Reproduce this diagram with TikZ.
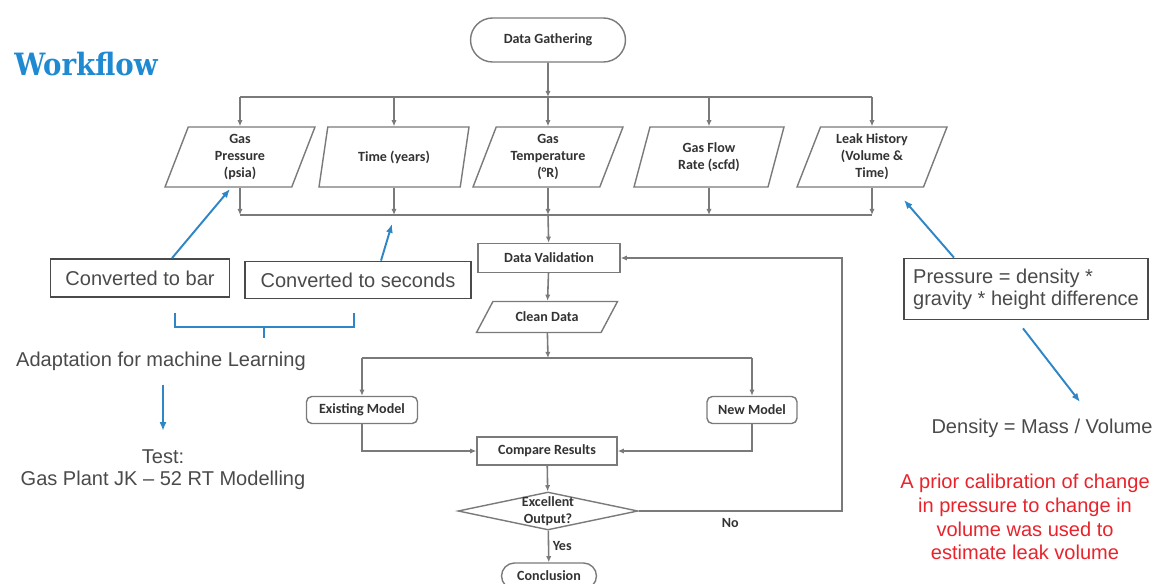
\documentclass[tikz,border=0pt]{standalone}
\usepackage{fontspec}
\setmainfont{Liberation Sans}
\newfontfamily\flowfont{Carlito}
\newfontfamily\titlefont{DejaVu Serif}
\usetikzlibrary{shapes.geometric,shapes.misc,arrows.meta,calc}

\definecolor{flowgray}{HTML}{7A7A7A}
\definecolor{notegray}{HTML}{4A4A4A}
\definecolor{noteblue}{HTML}{2F86C6}
\definecolor{titleblue}{HTML}{1F8AD2}
\definecolor{notered}{HTML}{E8232B}

\tikzset{
  flow/.style={draw=flowgray, line width=0.9pt, -{Latex[length=3.5pt,width=3pt]}},
  bus/.style={draw=flowgray, line width=0.9pt},
  box/.style={draw=flowgray, line width=0.8pt, fill=white, text=black!80, align=center, inner sep=2pt,
    font=\flowfont\bfseries\fontsize{8}{9.6}\selectfont},
  process/.style={box, rectangle, minimum height=0.58cm},
  model/.style={box, rounded corners=3pt, minimum height=0.54cm},
  io/.style={box, trapezium, trapezium left angle=66, trapezium right angle=114,
    trapezium stretches body, minimum width=3cm, minimum height=1.2cm},
  terminal/.style={box, rounded rectangle, minimum height=0.88cm},
  decision/.style={draw=flowgray, line width=0.8pt, diamond, minimum width=3.6cm,
    minimum height=0.76cm, inner sep=0pt},
  note/.style={text=notegray, font=\fontsize{11.4}{12.5}\selectfont},
  notebox/.style={note, draw=notegray, line width=1pt},
  pointer/.style={draw=noteblue, line width=1.1pt, -{Latex[length=5pt,width=4pt]}},
}

\begin{document}
\begin{tikzpicture}[x=0.02cm, y=-0.02cm]
\useasboundingbox (0,0) rectangle (1153,584);

\node[text=titleblue, xscale=0.9, font=\titlefont\bfseries\fontsize{17.5}{17.5}\selectfont] (title) at (86,64) {Workflow};

% gathering and inputs
\node[terminal, minimum width=3.24cm] (gather) at (548,40) {Data Gathering};
\node[io] (press) at (240,157) {Gas\\Pressure\\(psia)};
\node[io] (time) at (394,157) {Time (years)};
\node[io] (temp) at (548,157) {Gas\\Temperature\\(°R)};
\node[io] (rate) at (709,157) {Gas Flow\\Rate (scfd)};
\node[io] (leak) at (872,157) {Leak History\\(Volume \&\\Time)};

\coordinate (split1) at (548,97);
\coordinate (join1) at (548,215);
\coordinate (split2) at (548,358);

\draw[flow] (gather) -- (split1);
\draw[bus] (split1 -| press.north) -- (split1 -| leak.north);
\foreach \n in {press,time,temp,rate,leak}
  \draw[flow] (split1 -| \n.north) -- (\n.north);
\foreach \n in {press,time,temp,rate,leak}
  \draw[flow] (\n.south) -- (join1 -| \n.south);
\draw[bus] (join1 -| press.south) -- (join1 -| leak.south);

% main column
\node[process, minimum width=2.84cm] (valid) at (549,258) {Data Validation};
\node[io, minimum width=2.82cm, minimum height=0.62cm, trapezium left angle=46,
  trapezium right angle=134] (clean) at (547,317) {Clean Data};
\node[model, minimum width=2.22cm] (oldm) at (362,410) {Existing Model};
\node[model, minimum width=1.8cm] (newm) at (752,410) {New Model};
\node[process, minimum width=2.8cm, minimum height=0.56cm] (comp) at (547,451) {Compare Results};
\node[decision, label={[box, draw=none, fill=none, inner sep=0pt]center:Excellent\\Output?}] (check) at (548,511) {};
\node[terminal, minimum width=2.04cm, minimum height=0.52cm] (concl) at (549,576) {Conclusion};
\coordinate (loop) at (842,511);

\draw[flow] (join1) -- (valid);
\draw[flow] (valid) -- (clean);
\draw[flow] (clean) -- (split2);
\draw[bus] (split2 -| oldm.north) -- (split2 -| newm.north);
\draw[flow] (split2 -| oldm.north) -- (oldm);
\draw[flow] (split2 -| newm.north) -- (newm);
\draw[flow] (oldm) |- (comp);
\draw[flow] (newm) |- (comp);
\draw[flow] (comp) -- (check);
\draw[flow] (check) -- node[right, box, draw=none, fill=none] {Yes} (concl);
\draw[flow] (check.east) -- node[pos=0.45, below=2pt, box, draw=none, fill=none] {No} (loop) |- (valid.east);

% notes on the left
\node[notebox, minimum width=3.58cm, minimum height=0.76cm] (bar) at (140,278) {Converted to bar};
\node[notebox, minimum width=4.52cm, minimum height=0.74cm] (secs) at (358,280) {Converted to seconds};
\coordinate (bartip) at (230,189);
\coordinate (secstip) at (392,224);
\draw[pointer] ($(bar.north)+(32,0)$) -- (bartip);
\draw[pointer] ($(secs.north)+(23,0)$) -- (secstip);
\draw[noteblue, line width=1.1pt] (175,313) -- (175,327) -- (354,327) -- (354,313);
\draw[noteblue, line width=1.1pt] (264,327) -- (264,338);
\node[note] (adapt) at (161,361) {Adaptation for machine Learning};
\node[note, align=center] (test) at (163,470) {Test:\\Gas Plant JK – 52 RT Modelling};
\draw[pointer, shorten <=0.16cm, shorten >=0.26cm] (adapt.south -| test.north) -- (test.north);

% notes on the right
\node[notebox, align=left, minimum width=4.88cm, minimum height=1.22cm] (presseq) at (1026,289)
  {Pressure = density *\\gravity * height difference};
\node[note] (dens) at (1042,428) {Density = Mass / Volume};
\coordinate (leaktip) at (904,200);
\coordinate (denstip) at (1080,402);
\draw[pointer] ($(presseq.north)+(-72,0)$) -- (leaktip);
\draw[pointer] ($(presseq.south)+(-3,8)$) -- (denstip);
\node[note, text=notered, align=center, font=\fontsize{11.4}{13.5}\selectfont] (calib) at (1025,517)
  {A prior calibration of change\\in pressure to change in\\volume was used to\\estimate leak volume};
\end{tikzpicture}
\end{document}
